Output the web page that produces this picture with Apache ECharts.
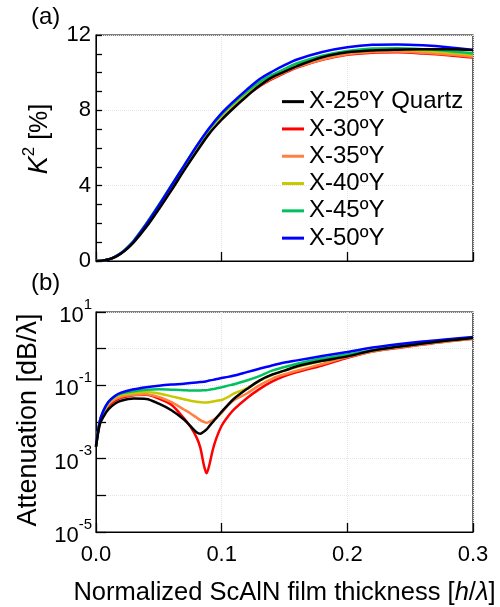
<!DOCTYPE html>
<html>
<head>
<meta charset="utf-8">
<script src="https://cdn.jsdelivr.net/npm/echarts@6/dist/echarts.min.js"></script>
<style>
  html, body { margin: 0; padding: 0; background: #fff; }
  #chart { width: 500px; height: 607px; }
</style>
</head>
<body>
<div id="chart"></div>
<script>
// (a) electromechanical coupling K2 [%]
var thick = [0, 0.005, 0.01, 0.015, 0.02, 0.025, 0.03, 0.04, 0.05, 0.06, 0.07, 0.08, 0.09, 0.1,
  0.11, 0.12, 0.13, 0.14, 0.15, 0.16, 0.18, 0.2, 0.22, 0.24, 0.26, 0.28, 0.3];
var k2Black  = [0, 0.02, 0.08, 0.2, 0.4, 0.66, 0.98, 1.8, 2.75, 3.75, 4.8, 5.8, 6.75, 7.5, 8.15, 8.75, 9.3, 9.75, 10.05, 10.35, 10.82, 11.08, 11.18, 11.22, 11.24, 11.24, 11.2];
var k2Red    = [0, 0.02, 0.08, 0.21, 0.41, 0.68, 1.02, 1.9, 2.88, 3.9, 4.92, 5.92, 6.82, 7.58, 8.2, 8.78, 9.27, 9.65, 9.98, 10.27, 10.68, 10.95, 11.06, 11.08, 11.02, 10.93, 10.8];
var k2Orange = [0, 0.02, 0.08, 0.22, 0.43, 0.72, 1.08, 1.98, 2.96, 3.98, 5.0, 6.0, 6.9, 7.65, 8.28, 8.85, 9.33, 9.7, 10.02, 10.3, 10.7, 10.98, 11.1, 11.12, 11.06, 10.97, 10.85];
var k2Yellow = [0, 0.02, 0.08, 0.22, 0.43, 0.72, 1.08, 1.98, 2.98, 4.0, 5.02, 6.02, 6.95, 7.72, 8.35, 8.92, 9.42, 9.8, 10.12, 10.42, 10.82, 11.08, 11.2, 11.22, 11.16, 11.06, 10.95];
var k2Green  = [0, 0.02, 0.08, 0.22, 0.43, 0.72, 1.08, 1.98, 2.98, 4.02, 5.05, 6.08, 7.0, 7.78, 8.42, 9.0, 9.5, 9.88, 10.2, 10.5, 10.9, 11.15, 11.28, 11.3, 11.25, 11.15, 11.02];
var k2Blue   = [0, 0.02, 0.08, 0.22, 0.42, 0.7, 1.05, 1.95, 2.95, 4.0, 5.05, 6.1, 7.05, 7.85, 8.5, 9.1, 9.65, 10.05, 10.4, 10.7, 11.1, 11.35, 11.48, 11.5, 11.45, 11.35, 11.2];

// (b) attenuation [dB/lambda]
var thickAtt = [0, 0.003, 0.006, 0.01, 0.015, 0.02, 0.03, 0.04, 0.05, 0.06, 0.07, 0.075, 0.08, 0.083,
  0.086, 0.088, 0.09, 0.093, 0.096, 0.1, 0.105, 0.11, 0.12, 0.13, 0.14, 0.15, 0.16, 0.18, 0.2,
  0.22, 0.24, 0.26, 0.28, 0.3];
var attBlack  = [2.1e-3, 8.5e-3, 1.41e-2, 2.24e-2, 3.16e-2, 3.8e-2, 4.37e-2, 4.27e-2, 3.16e-2, 2.09e-2, 1.17e-2, 7.8e-3, 5.25e-3, 4.8e-3,
  5.5e-3, 6.3e-3, 7.6e-3, 1.0e-2, 1.32e-2, 1.91e-2, 2.95e-2, 4.37e-2, 7.9e-2, 0.135, 0.195, 0.251, 0.331, 0.468, 0.617,
  0.891, 1.12, 1.38, 1.66, 1.95];
var attRed    = [2.1e-3, 9.5e-3, 1.66e-2, 2.75e-2, 3.8e-2, 4.57e-2, 5.37e-2, 5.5e-2, 4.37e-2, 2.95e-2, 1.26e-2, 7.6e-3, 3.8e-3, 2.0e-3,
  6.3e-4, 4.0e-4, 6.3e-4, 1.78e-3, 3.8e-3, 7.9e-3, 1.41e-2, 2.24e-2, 4.47e-2, 7.9e-2, 0.126, 0.178, 0.229, 0.347, 0.562,
  0.832, 1.05, 1.29, 1.58, 1.86];
var attOrange = [2.1e-3, 1.0e-2, 1.78e-2, 3.0e-2, 4.17e-2, 4.9e-2, 5.5e-2, 5.75e-2, 4.8e-2, 3.47e-2, 2.19e-2, 1.74e-2, 1.32e-2, 1.12e-2,
  1.0e-2, 9.5e-3, 1.0e-2, 1.12e-2, 1.32e-2, 1.78e-2, 2.82e-2, 3.98e-2, 6.0e-2, 0.1, 0.151, 0.2, 0.251, 0.38, 0.589,
  0.832, 1.07, 1.32, 1.58, 1.86];
var attYellow = [2.1e-3, 1.02e-2, 1.9e-2, 3.3e-2, 4.7e-2, 5.5e-2, 6.2e-2, 6.6e-2, 6.0e-2, 5.0e-2, 4.17e-2, 3.8e-2, 3.55e-2, 3.47e-2,
  3.39e-2, 3.39e-2, 3.47e-2, 3.63e-2, 3.8e-2, 3.98e-2, 4.8e-2, 6.0e-2, 8.3e-2, 0.132, 0.191, 0.251, 0.316, 0.457, 0.631,
  0.891, 1.12, 1.38, 1.66, 1.95];
var attGreen  = [2.1e-3, 1.05e-2, 2.0e-2, 3.55e-2, 5.0e-2, 6.0e-2, 6.9e-2, 7.6e-2, 7.8e-2, 7.6e-2, 7.4e-2, 7.2e-2, 7.2e-2, 7.2e-2,
  7.4e-2, 7.4e-2, 7.6e-2, 7.9e-2, 8.3e-2, 8.9e-2, 9.8e-2, 0.107, 0.135, 0.178, 0.251, 0.316, 0.389, 0.537, 0.692,
  0.912, 1.15, 1.41, 1.70, 2.0];
var attBlue   = [2.3e-3, 1.05e-2, 2.09e-2, 3.55e-2, 5.1e-2, 6.3e-2, 7.8e-2, 8.9e-2, 9.8e-2, 0.105, 0.11, 0.115, 0.12, 0.123,
  0.126, 0.129, 0.135, 0.141, 0.148, 0.158, 0.17, 0.186, 0.229, 0.282, 0.347, 0.417, 0.479, 0.631, 0.813,
  1.07, 1.32, 1.58, 1.82, 2.07];

var names = ['X-25ºY Quartz', 'X-30ºY', 'X-35ºY', 'X-40ºY', 'X-45ºY', 'X-50ºY'];
var colors = ['#000000', '#ff0000', '#ff8040', '#c8c800', '#00c060', '#0000ff'];
var k2Sets = [k2Black, k2Red, k2Orange, k2Yellow, k2Green, k2Blue];
var attSets = [attBlack, attRed, attOrange, attYellow, attGreen, attBlue];

var font = 'Liberation Sans, Arial, sans-serif';

function pairs(xs, ys) {
  return xs.map(function (x, i) { return [x, ys[i]]; });
}

// draw black last so it sits on top
var order = [1, 2, 3, 4, 5, 0];
var series = [];
order.forEach(function (k) {
  series.push({
    name: names[k], type: 'line', xAxisIndex: 0, yAxisIndex: 0,
    data: pairs(thick, k2Sets[k]), showSymbol: false, smooth: 0.3,
    lineStyle: { color: colors[k], width: 2.5 }, itemStyle: { color: colors[k] }
  });
});
order.forEach(function (k) {
  series.push({
    name: names[k], type: 'line', xAxisIndex: 1, yAxisIndex: 1,
    data: pairs(thickAtt, attSets[k]), showSymbol: false, smooth: 0.3,
    lineStyle: { color: colors[k], width: 2.5 }, itemStyle: { color: colors[k] }
  });
});

var gridLine = { show: true, lineStyle: { color: '#e4e4e4', type: 'dotted', width: 1 } };
var tickStyle = { color: '#000', width: 1.3 };

var chartDom = document.getElementById('chart');
var myChart = echarts.init(chartDom);
var option = {
  animation: false,
  textStyle: { fontFamily: font, color: '#000' },
  grid: [
    { left: 96, top: 35, width: 377, height: 226, show: true, borderColor: '#000', borderWidth: 1.2 },
    { left: 96, top: 312, width: 377, height: 225, show: true, borderColor: '#000', borderWidth: 1.2 }
  ],
  legend: {
    data: names, orient: 'vertical', left: 277, top: 83, itemGap: 0,
    icon: 'rect', itemWidth: 22, itemHeight: 3,
    textStyle: { fontFamily: font, fontSize: 24, lineHeight: 27.3, color: '#000' }
  },
  xAxis: [
    {
      type: 'value', gridIndex: 0, min: 0, max: 0.3, interval: 0.1,
      axisLine: { show: true, lineStyle: { color: '#000' } },
      axisTick: { show: true, inside: true, length: 9, lineStyle: tickStyle },
      axisLabel: { show: false }, splitLine: gridLine
    },
    {
      type: 'value', gridIndex: 1, min: 0, max: 0.3, interval: 0.1,
      axisLine: { show: true, lineStyle: { color: '#000' } },
      axisTick: { show: true, inside: true, length: 9, lineStyle: tickStyle },
      axisLabel: { fontSize: 22, color: '#000', fontFamily: font, margin: 12,
        formatter: function (v) { return v.toFixed(1); } },
      splitLine: gridLine,
      name: '{n|Normalized ScAlN film thickness [}{i|h}{n|/}{i|λ}{n|]}',
      nameLocation: 'middle', nameGap: 48,
      nameTextStyle: { rich: {
        n: { fontSize: 25.5, fontFamily: font, color: '#000' },
        i: { fontSize: 25.5, fontFamily: font, color: '#000', fontStyle: 'italic' }
      } }
    }
  ],
  yAxis: [
    {
      type: 'value', gridIndex: 0, min: 0, max: 12, interval: 4,
      axisLine: { show: true, lineStyle: { color: '#000' } },
      axisTick: { show: true, inside: true, length: 6, lineStyle: tickStyle },
      minorTick: { show: true, splitNumber: 4, length: 6, lineStyle: tickStyle },
      axisLabel: { fontSize: 22, color: '#000', fontFamily: font, margin: 5 },
      splitLine: gridLine
    },
    {
      type: 'log', gridIndex: 1, logBase: 10, min: 1e-5, max: 10, interval: 1,
      axisLine: { show: true, lineStyle: { color: '#000' } },
      axisTick: { show: true, inside: true, length: 10, lineStyle: tickStyle },
      axisLabel: {
        color: '#000', fontFamily: font, margin: 4,
        formatter: function (v) {
          var e = Math.round(Math.log10(v));
          if (e % 2 === 0) return '';
          return '{b|10}{s|' + e + '}';
        },
        rich: {
          b: { fontSize: 22, fontFamily: font, color: '#000', lineHeight: 30, verticalAlign: 'bottom' },
          s: { fontSize: 15, fontFamily: font, color: '#000', lineHeight: 30, verticalAlign: 'top' }
        }
      },
      splitLine: gridLine
    }
  ],
  graphic: [
    { type: 'text', left: 31, top: 5, style: { text: '(a)', fontSize: 24, fontFamily: font, fill: '#000' } },
    { type: 'text', left: 31, top: 271, style: { text: '(b)', fontSize: 24, fontFamily: font, fill: '#000' } },
    {
      type: 'text', x: 37, y: 139, rotation: Math.PI / 2,
      style: {
        text: '{i|K}{s|2}{n| [%]}', align: 'center', verticalAlign: 'middle',
        rich: {
          i: { fontSize: 27, fontFamily: font, fill: '#000', fontStyle: 'italic', lineHeight: 32, verticalAlign: 'bottom' },
          s: { fontSize: 17, fontFamily: font, fill: '#000', lineHeight: 32, verticalAlign: 'top' },
          n: { fontSize: 25, fontFamily: font, fill: '#000', lineHeight: 32, verticalAlign: 'bottom' }
        }
      }
    },
    {
      type: 'text', x: 29, y: 420, rotation: Math.PI / 2,
      style: { text: 'Attenuation [dB/λ]', align: 'center', verticalAlign: 'middle',
        fontSize: 27, fontFamily: font, fill: '#000' }
    }
  ],
  series: series
};
option && myChart.setOption(option);
</script>
</body>
</html>
